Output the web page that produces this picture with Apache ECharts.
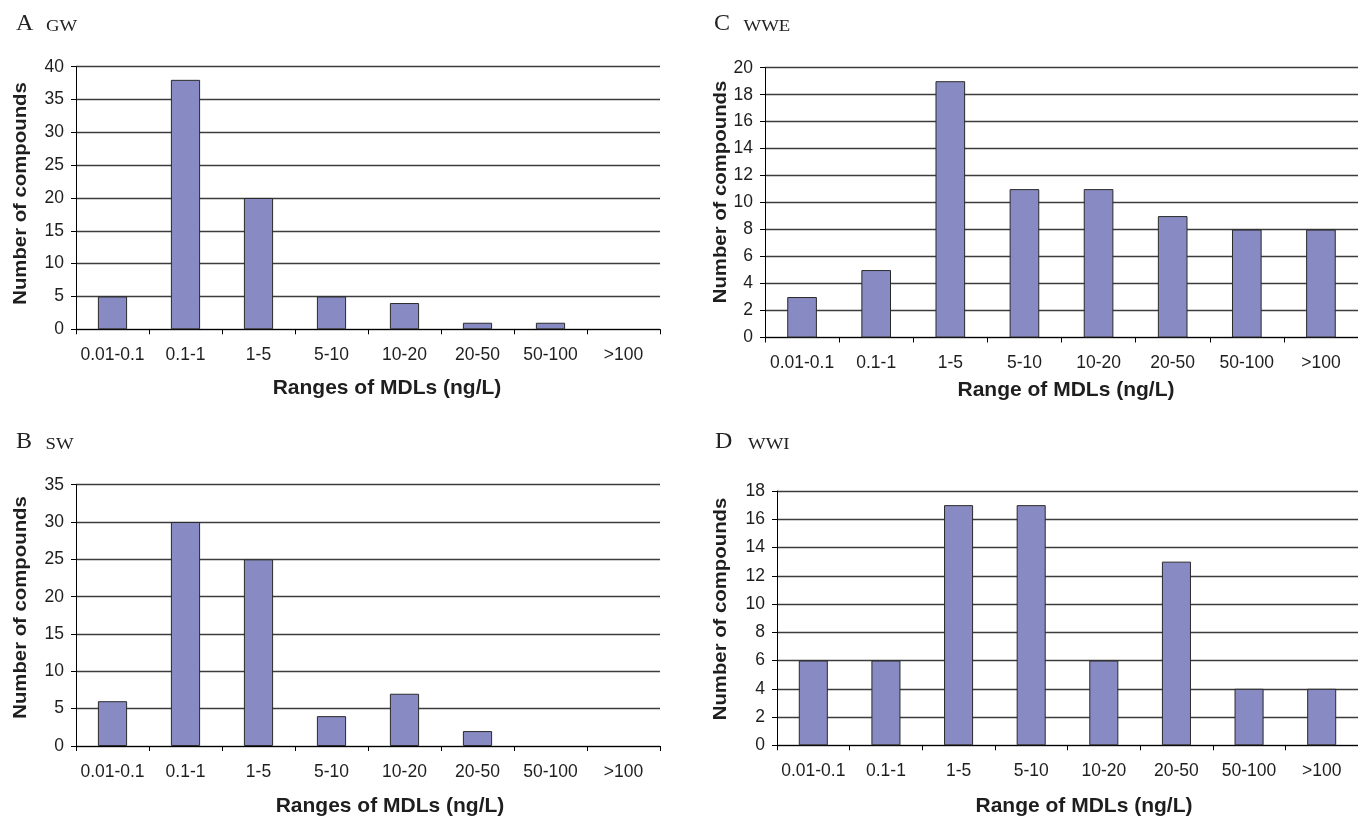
<!DOCTYPE html>
<html>
<head>
<meta charset="utf-8">
<script src="https://cdn.jsdelivr.net/npm/echarts@6/dist/echarts.min.js"></script>
<style>
  html, body { margin: 0; padding: 0; background: #ffffff; }
  #chart { width: 1358px; height: 820px; }
</style>
</head>
<body>
<div id="chart"></div>
<script>
// MDL ranges (ng/L) shared by all four panels
const ranges = ['0.01-0.1', '0.1-1', '1-5', '5-10', '10-20', '20-50', '50-100', '>100'];

// Number of compounds per MDL range
const gwCounts  = [5, 38, 20, 5, 4, 1, 1, 0];      // A  groundwater
const swCounts  = [6, 30, 25, 4, 7, 2, 0, 0];      // B  surface water
const wweCounts = [3, 5, 19, 11, 11, 9, 8, 8];     // C  wastewater effluent
const wwiCounts = [6, 6, 17, 17, 6, 13, 4, 4];     // D  wastewater influent

// Value-axis ticks
const gwTicks  = [0, 5, 10, 15, 20, 25, 30, 35, 40];
const swTicks  = [0, 5, 10, 15, 20, 25, 30, 35];
const wweTicks = [0, 2, 4, 6, 8, 10, 12, 14, 16, 18, 20];
const wwiTicks = [0, 2, 4, 6, 8, 10, 12, 14, 16, 18];

const panelLetters = ['A', 'C', 'B', 'D'];
const panelNames   = ['GW', 'WWE', 'SW', 'WWI'];
const xTitles = ['Ranges of MDLs (ng/L)', 'Range of MDLs (ng/L)', 'Ranges of MDLs (ng/L)', 'Range of MDLs (ng/L)'];
const yTitle = 'Number of compounds';

const countsList = [gwCounts, wweCounts, swCounts, wwiCounts];
const ticksList  = [gwTicks, wweTicks, swTicks, wwiTicks];

// plot-area placement of each panel and of its captions
const layout = [
  { left: 76,  top: 66.7,  width: 584,   height: 262.6, lx: 16,  gx: 46,    ty: 32,  xt: [387, 388], yt: [20.7, 193.5] },
  { left: 765, top: 67.7,  width: 594.5, height: 269.8, lx: 714, gx: 743.5, ty: 32,  xt: [1066, 390], yt: [721, 192] },
  { left: 76,  top: 484.7, width: 584,   height: 261.3, lx: 16,  gx: 45.5,  ty: 450, xt: [390, 806], yt: [21.5, 607.5] },
  { left: 777, top: 491,   width: 581.6, height: 254.3, lx: 715, gx: 748,   ty: 450, xt: [1084, 806], yt: [721, 609] }
];

const sans = '"Liberation Sans", Arial, sans-serif';
const serif = '"Liberation Serif", "Times New Roman", serif';
const inkColor = '#1e1e1e';

const grids = [], xAxes = [], yAxes = [], series = [], graphics = [];

layout.forEach(function (p, i) {
  const ticks = ticksList[i];
  grids.push({ left: p.left, top: p.top, width: p.width, height: p.height, containLabel: false });

  xAxes.push({
    type: 'category',
    gridIndex: i,
    data: ranges,
    boundaryGap: true,
    axisLine: { show: true, lineStyle: { color: '#000', width: 1 } },
    axisTick: { show: true, inside: false, length: 5, lineStyle: { color: '#000', width: 1 } },
    axisLabel: { interval: 0, margin: 17, fontFamily: sans, fontSize: 17.5, color: inkColor },
    splitLine: { show: false }
  });

  yAxes.push({
    type: 'value',
    gridIndex: i,
    min: ticks[0],
    max: ticks[ticks.length - 1],
    interval: ticks[1] - ticks[0],
    axisLine: { show: true, lineStyle: { color: '#000', width: 1 } },
    axisTick: { show: true, inside: false, length: 5, lineStyle: { color: '#000', width: 1 } },
    axisLabel: { margin: 12, fontFamily: sans, fontSize: 17.5, color: inkColor },
    splitLine: { show: true, lineStyle: { color: '#3c3c3c', width: 1.4 } }
  });

  // empty ranges get no outline so nothing shows on the baseline
  const barData = countsList[i].map(function (v) {
    return v === 0 ? { value: v, itemStyle: { borderWidth: 0 } } : v;
  });

  series.push({
    type: 'bar',
    xAxisIndex: i,
    yAxisIndex: i,
    data: barData,
    barCategoryGap: '60%',
    itemStyle: { color: '#888bc3', borderColor: '#2a2a2a', borderWidth: 1 },
    silent: true,
    animation: false
  });

  // panel label: large letter followed by the small-caps sample type
  graphics.push({
    type: 'text', x: p.lx, y: p.ty - 8.1,
    style: { text: panelLetters[i], font: '24px ' + serif, fill: '#222', align: 'left', verticalAlign: 'middle' }
  });
  graphics.push({
    type: 'text', x: p.gx, y: p.ty - 5.7, scaleX: 1.1,
    style: { text: panelNames[i], font: '17px ' + serif, fill: '#222', align: 'left', verticalAlign: 'middle' }
  });

  // axis titles
  graphics.push({
    type: 'text', x: p.xt[0], y: p.xt[1],
    style: { text: xTitles[i], font: 'bold 21px ' + sans, fill: inkColor, align: 'center', verticalAlign: 'middle' }
  });
  graphics.push({
    type: 'text', x: p.yt[0], y: p.yt[1], rotation: Math.PI / 2, scaleX: 1.13,
    style: { text: yTitle, font: 'bold 18px ' + sans, fill: inkColor, align: 'center', verticalAlign: 'middle' }
  });
});

const chart = echarts.init(document.getElementById('chart'), null, { renderer: 'canvas' });
chart.setOption({
  backgroundColor: '#ffffff',
  animation: false,
  grid: grids,
  xAxis: xAxes,
  yAxis: yAxes,
  series: series,
  graphic: graphics
});
</script>
</body>
</html>
